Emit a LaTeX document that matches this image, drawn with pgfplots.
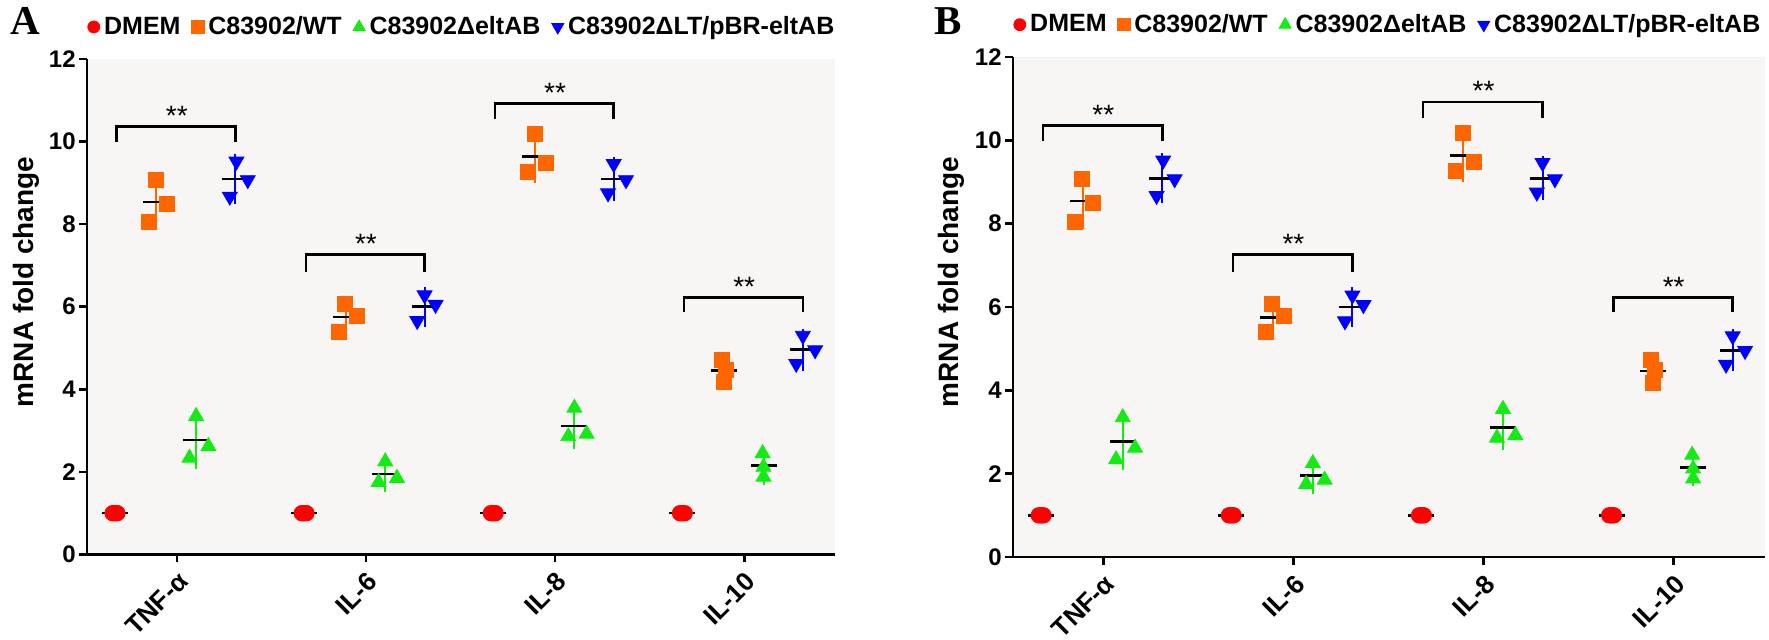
\documentclass[border=0pt]{standalone}
\usepackage{pgfplots}
\pgfplotsset{compat=1.18}
\usepackage{pgfplotstable}
\usepackage{fontspec}
\setmainfont{Liberation Sans}
\newfontfamily\serifbold{Liberation Serif}

\definecolor{cDMEM}{RGB}{255,0,0}
\definecolor{cWT}{RGB}{255,102,0}
\definecolor{cDel}{RGB}{20,235,20}
\definecolor{cComp}{RGB}{0,0,255}
\definecolor{bgGray}{RGB}{247,246,244}

% individual replicates (x = category + group offset + jitter)
\pgfplotstableread{
x y
-0.339 1.00
-0.327 1.00
-0.315 1.00
0.661 1.00
0.673 1.00
0.685 1.00
1.661 1.00
1.673 1.00
1.685 1.00
2.661 1.00
2.673 1.00
2.685 1.00
}\ptsDMEM
\pgfplotstableread{
x y
-0.113 9.07
-0.055 8.49
-0.148 8.05
0.887 6.07
0.950 5.78
0.855 5.40
1.892 10.18
1.950 9.48
1.855 9.27
2.882 4.72
2.902 4.48
2.892 4.19
}\ptsWT
\pgfplotstableread{
x y
0.102 3.35
0.167 2.62
0.067 2.34
1.102 2.25
1.164 1.85
1.067 1.75
2.102 3.55
2.167 2.92
2.070 2.86
3.097 2.45
3.102 2.12
3.102 1.88
}\ptsDel
\pgfplotstableread{
x y
0.315 9.52
0.375 9.07
0.280 8.67
1.310 6.28
1.368 6.05
1.271 5.66
2.310 9.46
2.375 9.07
2.280 8.75
3.310 5.30
3.375 4.95
3.275 4.62
}\ptsComp

% mean and SD per group
\pgfplotstableread{
x mean sd
-0.327 1.00 0.00
0.673 1.00 0.00
1.673 1.00 0.00
2.673 1.00 0.00
}\mDMEM
\pgfplotstableread{
x mean sd
-0.108 8.54 0.51
0.892 5.75 0.34
1.892 9.64 0.48
2.892 4.46 0.27
}\mWT
\pgfplotstableread{
x mean sd
0.102 2.77 0.52
1.102 1.95 0.27
2.102 3.11 0.38
3.102 2.15 0.29
}\mDel
\pgfplotstableread{
x mean sd
0.310 9.09 0.43
1.310 6.00 0.31
2.310 9.09 0.36
3.310 4.96 0.34
}\mComp

\pgfplotsset{
  panel/.style={
    scale only axis,
    xmin=-0.475, xmax=3.48, ymin=0, ymax=12,
    axis lines=left,
    axis line style={-, line width=1.3pt},
    xtick={0,1,2,3},
    xticklabels={TNF-α, IL-6, IL-8, IL-10},
    ytick={0,2,...,12},
    minor tick num=0,
    tick align=outside,
    major tick length=4pt,
    tick style={line width=1.3pt, black},
    axis background/.style={fill=bgGray},
    /pgf/number format/assume math mode=true,
    yticklabel style={font=\fontsize{12}{12}\selectfont\bfseries, inner xsep=1.5pt},
    xticklabel style={font=\fontsize{13}{13}\selectfont\bfseries, rotate=45, anchor=north east, inner sep=1pt},
    xticklabel shift=2.5pt,
    ylabel={mRNA fold change},
    every axis y label/.style={at={(axis description cs:-0.072,0.55)}, rotate=90, anchor=base,
      font=\fontsize{14}{14}\selectfont\bfseries},
    clip=false,
    legend columns=4,
    legend style={at={(axis description cs:0,1.0646)}, anchor=west, draw=none, fill=none,
      inner sep=0pt, font=\fontsize{12.5}{13}\selectfont\bfseries,
      /tikz/every even column/.append style={column sep=3.5pt}},
    legend image code/.code={\path (0pt,0pt) (6pt,0pt); \draw[##1] plot coordinates {(3pt,0pt)};},
  },
}

\newcommand{\meansd}[2]{%
  \addplot[forget plot, draw=none, mark=none,
    error bars/.cd, y dir=both, y explicit,
    error bar style={draw=#2, line width=1pt},
    error mark options={draw=#2, line width=1pt, mark size=3.5pt}]
    table[x=x, y=mean, y error=sd] {#1};
}
\newcommand{\meanline}[1]{%
  \addplot[forget plot, only marks, mark=-, mark size=6.5pt,
    mark options={black, line width=1.3pt}] table[x=x, y=mean] {#1};
}
\newcommand{\sig}[3]{%
  \draw[line width=1.3pt] (axis cs:#1-0.318,#3) -- (axis cs:#1-0.318,#2)
    -- (axis cs:#1+0.31,#2) -- (axis cs:#1+0.31,#3);
  \node[anchor=base, font=\fontsize{14}{14}\selectfont, yshift=0.5pt] at (axis cs:#1,#2) {**};
}
\newcommand{\panelbody}{%
  \addlegendimage{only marks, mark=*, cDMEM, mark size=3pt}
  \addlegendentry{DMEM}
  \addlegendimage{only marks, mark=square*, cWT, mark size=3.1pt}
  \addlegendentry{C83902/WT}
  \addlegendimage{only marks, mark=triangle*, cDel, mark size=3.5pt}
  \addlegendentry{C83902ΔeltAB}
  \addlegendimage{only marks, mark=triangle*, cComp, mark size=3.5pt, mark options={rotate=180}}
  \addlegendentry{C83902ΔLT/pBR-eltAB}
  % error bars and means behind the points
  \meansd{\mWT}{cWT}
  \meansd{\mDel}{cDel}
  \meansd{\mComp}{cComp}
  \meanline{\mDMEM}
  \meanline{\mWT}
  \meanline{\mDel}
  \meanline{\mComp}
  % replicates
  \addplot[forget plot, only marks, mark=*, mark size=3.9pt, cDMEM] table {\ptsDMEM};
  \addplot[forget plot, only marks, mark=square*, mark size=3.75pt, cWT] table {\ptsWT};
  \addplot[forget plot, only marks, mark=triangle*, mark size=4.3pt, cDel] table {\ptsDel};
  \addplot[forget plot, only marks, mark=triangle*, mark size=4.3pt, cComp,
    mark options={rotate=180}] table {\ptsComp};
  % significance brackets
  \sig{0}{10.36}{9.98}
  \sig{1}{7.26}{6.85}
  \sig{2}{10.92}{10.54}
  \sig{3}{6.23}{5.87}
}

\begin{document}
\begin{tikzpicture}
  \path[use as bounding box] (0,0) rectangle (884.5pt,320pt);
  \node[anchor=base west, font=\fontsize{20.5}{21}\selectfont\serifbold\bfseries] at (1.5pt,302.5pt) {A};
  \node[anchor=base west, font=\fontsize{20.5}{21}\selectfont\serifbold\bfseries] at (463.5pt,302.5pt) {B};

  \begin{axis}[panel, at={(43.5pt,42.75pt)}, anchor=south west, width=374pt, height=247.75pt]
    \panelbody
  \end{axis}

  \begin{axis}[panel, at={(506.5pt,41.5pt)}, anchor=south west, width=376pt, height=250pt]
    \panelbody
  \end{axis}
\end{tikzpicture}
\end{document}
